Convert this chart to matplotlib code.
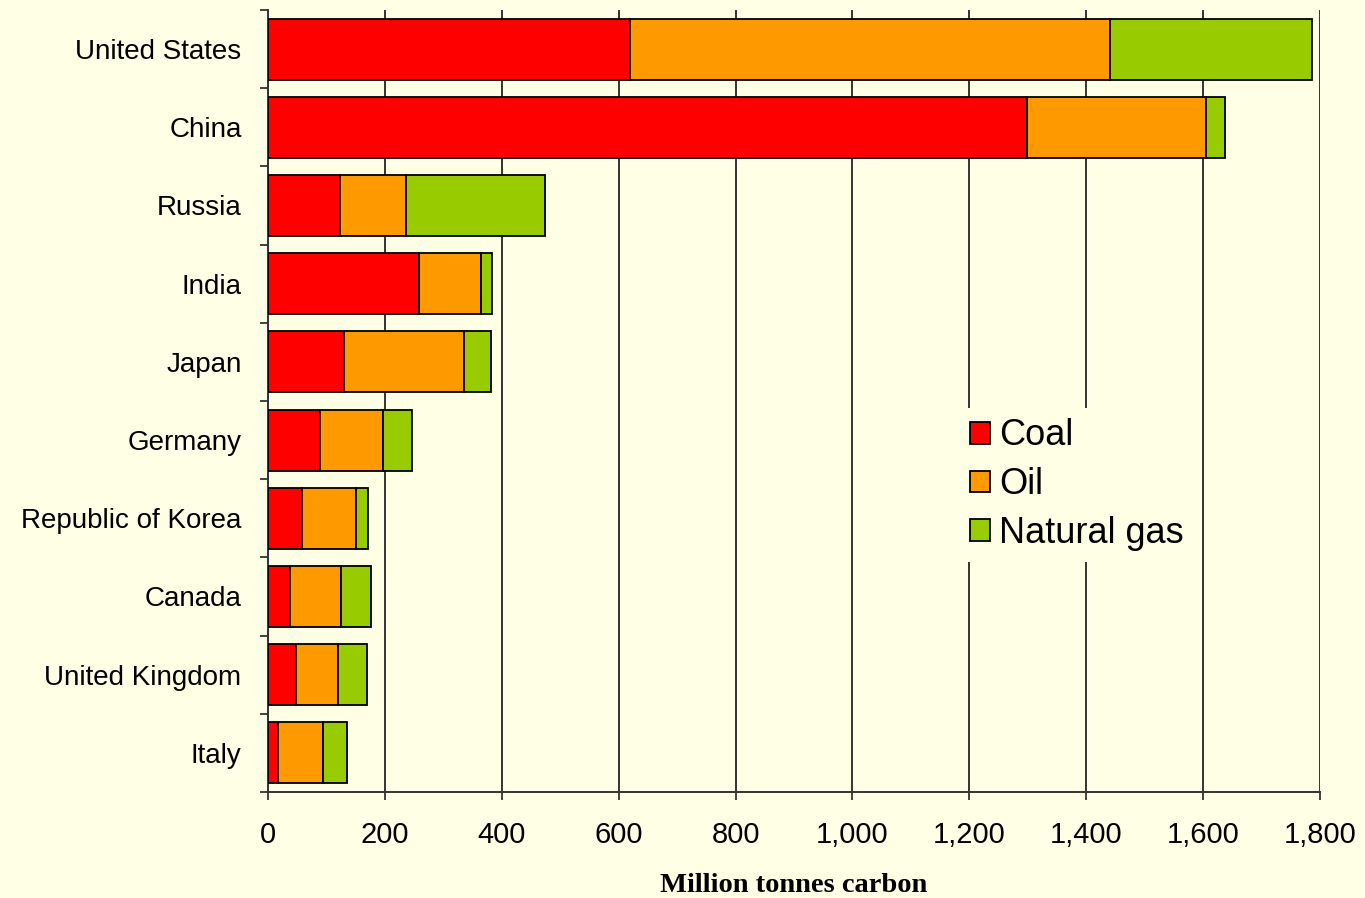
import numpy as np
import matplotlib.pyplot as plt

# dados (milhões de toneladas de carbono)
paises = ["United States", "China", "Russia", "India", "Japan", "Germany",
          "Republic of Korea", "Canada", "United Kingdom", "Italy"]
carvao = [619, 1299, 123, 258, 130, 89, 58, 38, 48, 17]
petroleo = [822, 306, 113, 106, 205, 108, 93, 87, 72, 77]
gas = [345, 33, 238, 19, 47, 49, 20, 51, 49, 41]

fundo = "#FFFFE6"
cores = ["#FF0000", "#FF9900", "#99CC00"]

fig = plt.figure(figsize=(13.65, 8.98), dpi=100, facecolor=fundo)
ax = fig.add_axes([268/1365, 1-792/898, (1320-268)/1365, (792-10)/898])
ax.set_facecolor(fundo)

y = np.arange(len(paises))
carvao = np.array(carvao)
petroleo = np.array(petroleo)
gas = np.array(gas)

ax.barh(y, carvao, height=0.78, color=cores[0], edgecolor="black", lw=1.3, label="Coal", zorder=3)
ax.barh(y, petroleo, left=carvao, height=0.78, color=cores[1], edgecolor="black", lw=1.3, label="Oil", zorder=3)
ax.barh(y, gas, left=carvao + petroleo, height=0.78, color=cores[2], edgecolor="black", lw=1.3, label="Natural gas", zorder=3)

ax.set_xlim(0, 1800)
ax.set_ylim(len(paises) - 0.5, -0.5)
ax.set_xticks(np.arange(0, 1801, 200))
ax.set_xticklabels([f"{v:,}" for v in range(0, 1801, 200)], fontsize=21, family="Liberation Sans")
ax.set_yticks(y)
ax.set_yticklabels(paises, fontsize=20, family="Liberation Sans")
ax.set_yticks(np.arange(-0.5, len(paises)), minor=True)

ax.tick_params(axis="y", which="major", length=0, pad=19)
ax.tick_params(axis="y", which="minor", length=6, width=1.3, color="#333333")
ax.tick_params(axis="x", which="major", length=6, width=1.3, color="#333333", pad=15)

ax.grid(axis="x", color="#333333", lw=1.4, zorder=0)
ax.set_axisbelow(True)
for s in ["top", "right"]:
    ax.spines[s].set_visible(False)
for s in ["left", "bottom"]:
    ax.spines[s].set_color("#333333")
    ax.spines[s].set_linewidth(1.4)

ax.set_xlabel("Million tonnes carbon", fontsize=20.5, family="Liberation Serif",
              fontweight="bold", labelpad=17)

leg = ax.legend(loc="center left", bbox_to_anchor=(0.64, 0.393), prop={"family": "Liberation Sans", "size": 26},
                frameon=True, facecolor=fundo, edgecolor="none", framealpha=1, fancybox=False,
                handlelength=0.55, handleheight=0.55, handletextpad=0.25, labelspacing=0.38,
                borderpad=0.3)
leg.set_zorder(5)

plt.savefig("out.png", dpi=100, facecolor=fundo)
